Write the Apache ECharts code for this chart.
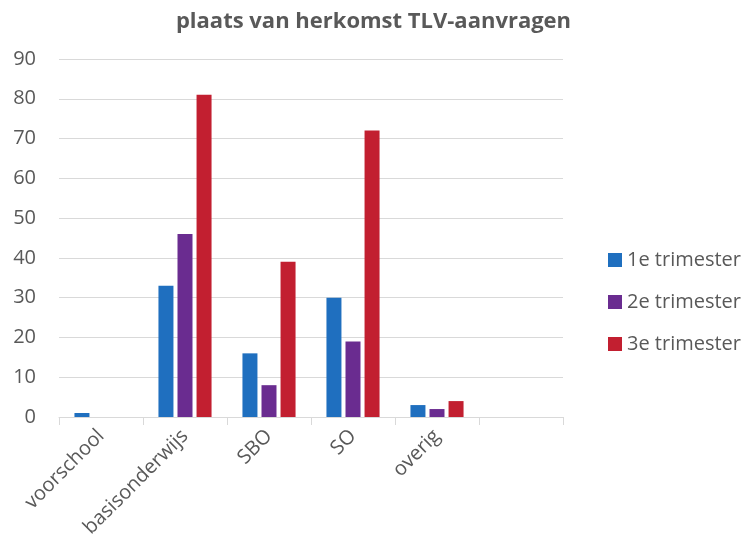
<!DOCTYPE html>
<html lang="nl">
  <head>
    <meta charset="UTF-8" />
    <title>plaats van herkomst TLV-aanvragen</title>
    <style>
      body { margin: 0; padding: 0; background: #fff; }
      #container { width: 747px; height: 550px; }
    </style>
  </head>
  <body>
    <div id="container"></div>
    <script src="https://cdn.jsdelivr.net/npm/echarts@6/dist/echarts.min.js"></script>
    <script>
      // data
      const categories = ["voorschool", "basisonderwijs", "SBO", "SO", "overig", ""];
      const trimester1 = [1, 33, 16, 30, 3, null];
      const trimester2 = [0, 46, 8, 19, 2, null];
      const trimester3 = [0, 81, 39, 72, 4, null];
      const seriesNames = ["1e trimester", "2e trimester", "3e trimester"];
      const colors = ["#1F6FBF", "#6A2C90", "#C21F30"];

      const font = "'Open Sans', sans-serif";
      const txt = "#595959";

      const chart = echarts.init(document.getElementById("container"));

      const mkSeries = (name, data, color) => ({
        name: name,
        type: "bar",
        data: data,
        barWidth: 15,
        barGap: "27%",
        itemStyle: { color: color },
      });

      chart.setOption({
        animation: false,
        title: {
          text: "plaats van herkomst TLV-aanvragen",
          left: "center",
          top: 6,
          textStyle: { fontFamily: font, fontSize: 22, fontWeight: "bold", color: txt },
        },
        legend: {
          orient: "vertical",
          left: 603,
          top: 245,
          itemWidth: 14,
          itemHeight: 14,
          itemGap: 22,
          icon: "rect",
          textStyle: { fontFamily: font, fontSize: 20, color: txt },
        },
        grid: { left: 59, right: 184, top: 59, bottom: 133 },
        xAxis: {
          type: "category",
          data: categories,
          axisLine: { lineStyle: { color: "#d9d9d9", width: 1 } },
          axisTick: { show: true, length: 8, lineStyle: { color: "#d9d9d9" } },
          axisLabel: {
            rotate: 45,
            interval: 0,
            margin: 16,
            fontFamily: font,
            fontSize: 20,
            color: txt,
          },
        },
        yAxis: {
          type: "value",
          min: 0,
          max: 90,
          interval: 10,
          axisLine: { show: false },
          axisTick: { show: false },
          splitLine: { lineStyle: { color: "#d9d9d9" } },
          axisLabel: { fontFamily: font, fontSize: 20, color: txt, margin: 23 },
        },
        series: [
          mkSeries(seriesNames[0], trimester1, colors[0]),
          mkSeries(seriesNames[1], trimester2, colors[1]),
          mkSeries(seriesNames[2], trimester3, colors[2]),
        ],
      });
    </script>
  </body>
</html>
